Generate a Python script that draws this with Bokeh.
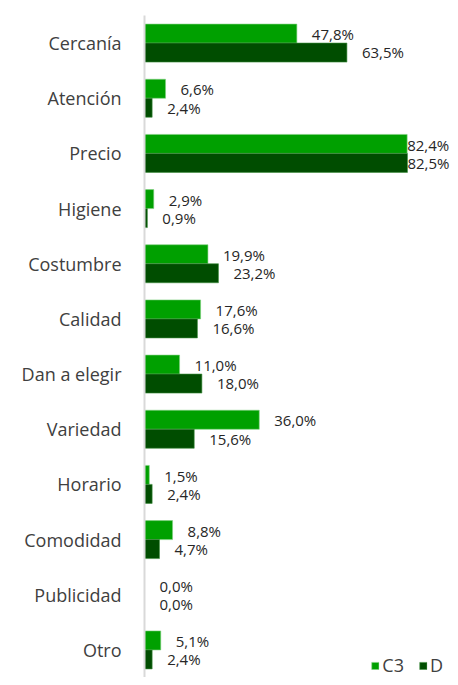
from bokeh.plotting import figure
from bokeh.models import ColumnDataSource, FactorRange, Legend, LegendItem, Range1d
from bokeh.transform import dodge
from bokeh.core.properties import value
from bokeh.embed import file_html
from bokeh.resources import INLINE

categories = ["Cercanía", "Atención", "Precio", "Higiene", "Costumbre", "Calidad",
              "Dan a elegir", "Variedad", "Horario", "Comodidad", "Publicidad", "Otro"]
c3 = [47.8, 6.6, 82.4, 2.9, 19.9, 17.6, 11.0, 36.0, 1.5, 8.8, 0.0, 5.1]
d = [63.5, 2.4, 82.5, 0.9, 23.2, 16.6, 18.0, 15.6, 2.4, 4.7, 0.0, 2.4]

C3_COLOR = "#00A000"
D_COLOR = "#004D00"

def fmt(v):
    return f"{v:.1f}".replace(".", ",") + "%"

def offs(vals):
    return [0 if v > 80 else 15 for v in vals]

src = ColumnDataSource(dict(
    cat=categories, c3=c3, d=d,
    c3_lab=[fmt(v) for v in c3], d_lab=[fmt(v) for v in d],
    c3_off=offs(c3), d_off=offs(d),
))

p = figure(width=450, height=677, output_backend="svg", toolbar_location=None,
           y_range=FactorRange(*reversed(categories), range_padding=0),
           x_range=Range1d(0, 96))
p.min_border_left = 144
p.min_border_right = 0
p.min_border_top = 15
p.min_border_bottom = 0
p.outline_line_color = None
p.grid.visible = False

r1 = p.hbar(y=dodge("cat", 0.172, range=p.y_range), right="c3", left=0, height=0.345,
            source=src, fill_color=C3_COLOR, line_color="#7fd07f", line_width=0.6)
r2 = p.hbar(y=dodge("cat", -0.172, range=p.y_range), right="d", left=0, height=0.345,
            source=src, fill_color=D_COLOR, line_color="#3f8f3f", line_width=0.6)

p.text(x="c3", y=dodge("cat", 0.16, range=p.y_range), text="c3_lab", x_offset="c3_off",
       source=src, text_baseline="middle", text_font=value("Open Sans"),
       text_font_size="15px", text_color="#262626")
p.text(x="d", y=dodge("cat", -0.17, range=p.y_range), text="d_lab", x_offset="d_off",
       source=src, text_baseline="middle", text_font=value("Open Sans"),
       text_font_size="15px", text_color="#262626")

p.xaxis.visible = False
yax = p.yaxis[0]
yax.axis_line_color = "#d9d9d9"
yax.axis_line_width = 2
yax.major_tick_line_color = None
yax.minor_tick_line_color = None
yax.major_label_text_font = "Open Sans"
yax.major_label_text_font_size = "18px"
yax.major_label_text_color = "#404040"
yax.major_label_standoff = 17

legend = Legend(items=[LegendItem(label="C3", renderers=[r1]),
                       LegendItem(label="D", renderers=[r2])],
                location="bottom_right", orientation="horizontal",
                glyph_width=9, glyph_height=9, label_text_font="Open Sans",
                label_text_font_size="18px", label_text_color="#404040",
                border_line_color=None, background_fill_alpha=0,
                padding=0, margin=0, spacing=14, label_standoff=3)
p.add_layout(legend)

open("out.html", "w").write(file_html(p, INLINE))
